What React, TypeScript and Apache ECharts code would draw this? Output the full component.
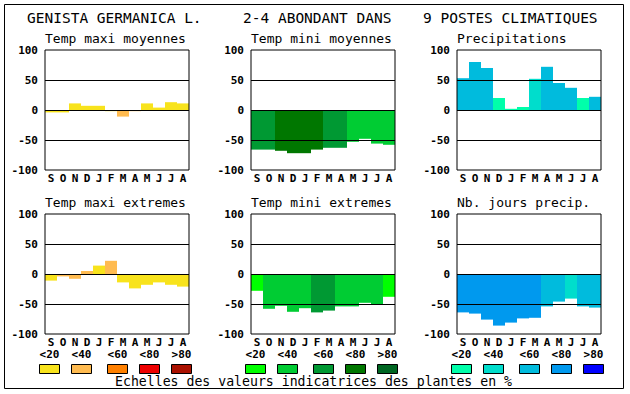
import React, { useEffect, useRef } from 'react';
import * as echarts from 'echarts';

const months = ['S', 'O', 'N', 'D', 'J', 'F', 'M', 'A', 'M', 'J', 'J', 'A'];
const mainTitles = ['GENISTA GERMANICA L.', '2-4 ABONDANT DANS', '9 POSTES CLIMATIQUES'];
const panelTitles = [
  'Temp maxi moyennes', 'Temp mini moyennes', 'Precipitations',
  'Temp maxi extremes', 'Temp mini extremes', 'Nb. jours precip.',
];
const yTicks = [-100, -50, 0, 50, 100];

// values and class index (0: <20, 1: <40, 2: <60, 3: <80, 4: >80)
const tmaxMoyValues = [-4, -4, 11, 7, 7, -2, -11, -2, 11, 4, 13, 11];
const tmaxMoyClasses = [0, 0, 0, 0, 0, 0, 1, 1, 0, 0, 0, 0];
const tminMoyValues = [-66, -66, -68, -72, -72, -66, -63, -63, -53, -48, -56, -58];
const tminMoyClasses = [2, 2, 3, 3, 3, 3, 2, 2, 1, 1, 1, 1];
const precipValues = [53, 80, 70, 20, 2, 5, 52, 72, 45, 37, 20, 22];
const precipClasses = [2, 2, 2, 0, 0, 0, 1, 2, 2, 2, 0, 2];
const tmaxExtValues = [-11, -4, -8, 5, 14, 22, -14, -24, -18, -14, -18, -21];
const tmaxExtClasses = [0, 1, 1, 1, 0, 1, 0, 0, 0, 0, 0, 0];
const tminExtValues = [-28, -58, -53, -63, -57, -64, -61, -54, -54, -48, -50, -38];
const tminExtClasses = [0, 1, 1, 1, 1, 2, 2, 1, 1, 1, 1, 0];
const joursValues = [-64, -66, -76, -86, -81, -74, -73, -54, -46, -41, -54, -56];
const joursClasses = [3, 3, 3, 3, 3, 3, 3, 2, 2, 1, 2, 2];

const scaleLabels = ['<20', '<40', '<60', '<80', '>80'];
const warmColors = ['#f8e31c', '#ffbb50', '#ff8000', '#ee0000', '#aa1100'];
const greenColors = ['#00ff00', '#00cc33', '#009933', '#007700', '#006622'];
const blueColors = ['#00ffaa', '#00ddcc', '#00bbdd', '#0099ee', '#0000ff'];
const footnote = 'Echelles des valeurs indicatrices des plantes en %';

const MONO = '"DejaVu Sans Mono", monospace';

export default function App() {
  const ref = useRef<HTMLDivElement>(null);
  useEffect(() => {
    if (!ref.current) return;
    const chart = echarts.init(ref.current, undefined, { renderer: 'svg' });

    const panels = [
      { v: tmaxMoyValues, c: tmaxMoyClasses, pal: warmColors },
      { v: tminMoyValues, c: tminMoyClasses, pal: greenColors },
      { v: precipValues, c: precipClasses, pal: blueColors },
      { v: tmaxExtValues, c: tmaxExtClasses, pal: warmColors },
      { v: tminExtValues, c: tminExtClasses, pal: greenColors },
      { v: joursValues, c: joursClasses, pal: blueColors },
    ];
    const lefts = [45, 251, 457];
    const tops = [50, 214];
    const W = 144;
    const H = 120;

    const grid: any[] = [];
    const xAxis: any[] = [];
    const yAxis: any[] = [];
    const series: any[] = [];
    const graphic: any[] = [];

    panels.forEach((p, i) => {
      const col = i % 3;
      const row = Math.floor(i / 3);
      grid.push({
        left: lefts[col], top: tops[row], width: W, height: H,
        show: true, borderColor: '#000', borderWidth: 1, backgroundColor: 'transparent', z: 5,
      });
      xAxis.push({
        type: 'category', gridIndex: i, data: months,
        axisLine: { show: false }, axisTick: { show: false },
        axisLabel: {
          color: '#000', fontFamily: MONO, fontWeight: 'bold', fontSize: 11,
          lineHeight: 10, margin: 3, interval: 0,
        },
      });
      yAxis.push({
        type: 'value', gridIndex: i, min: yTicks[0], max: yTicks[yTicks.length - 1], interval: 50,
        splitLine: { show: false }, axisLine: { show: false }, axisTick: { show: false },
        axisLabel: { color: '#000', fontFamily: MONO, fontWeight: 'bold', fontSize: 11, lineHeight: 10, margin: 7 },
      });
      series.push({
        type: 'bar', xAxisIndex: i, yAxisIndex: i,
        barWidth: '100%', barCategoryGap: '0%',
        data: p.v.map((v, k) => ({ value: v, itemStyle: { color: p.pal[p.c[k]] } })),
        markLine: {
          silent: true, symbol: ['none', 'none'], label: { show: false },
          lineStyle: { color: '#000', type: 'solid', width: 1 },
          data: [{ yAxis: 50 }, { yAxis: 0 }, { yAxis: -50 }],
        },
        z: 2,
      });
      graphic.push({
        type: 'text', x: lefts[col], y: tops[row] - 12,
        style: { text: panelTitles[i], fontFamily: MONO, fontSize: 13, fill: '#000', align: 'left', verticalAlign: 'middle' },
      });
    });

    const titleX = [27, 243, 423];
    mainTitles.forEach((t, i) => {
      graphic.push({
        type: 'text', x: titleX[i], y: 18,
        style: { text: t, fontFamily: MONO, fontSize: 14.5, fill: '#000', align: 'left', verticalAlign: 'middle' },
      });
    });

    graphic.push({
      type: 'rect', shape: { x: 4.5, y: 4.5, width: 619, height: 384 },
      style: { fill: 'none', stroke: '#000', lineWidth: 1 },
    });

    const groupBases = [39, 245, 451];
    const offsets = [0, 32, 68, 100, 132];
    const palettes = [warmColors, greenColors, blueColors];
    palettes.forEach((pal, g) => {
      pal.forEach((color, k) => {
        const x = groupBases[g] + offsets[k];
        graphic.push({
          type: 'rect', shape: { x: x + 0.5, y: 364.5, width: 20, height: 9 },
          style: { fill: color, stroke: '#000', lineWidth: 1 },
        });
        graphic.push({
          type: 'text', x: x + 10.5, y: 354,
          style: {
            text: scaleLabels[k], fontFamily: MONO, fontWeight: 'bold', fontSize: 11, lineHeight: 10,
            fill: '#000', align: 'center', verticalAlign: 'middle',
          },
        });
      });
    });

    graphic.push({
      type: 'text', x: 115, y: 381,
      style: { text: footnote, fontFamily: MONO, fontSize: 13.2, fill: '#000', align: 'left', verticalAlign: 'middle' },
    });

    chart.setOption({
      animation: false,
      backgroundColor: '#fff',
      grid, xAxis, yAxis, series, graphic,
    });
    return () => chart.dispose();
  }, []);
  return (
    <div
      ref={ref}
      style={{ position: 'fixed', left: 0, top: 0, width: 630, height: 394 }}
    />
  );
}
